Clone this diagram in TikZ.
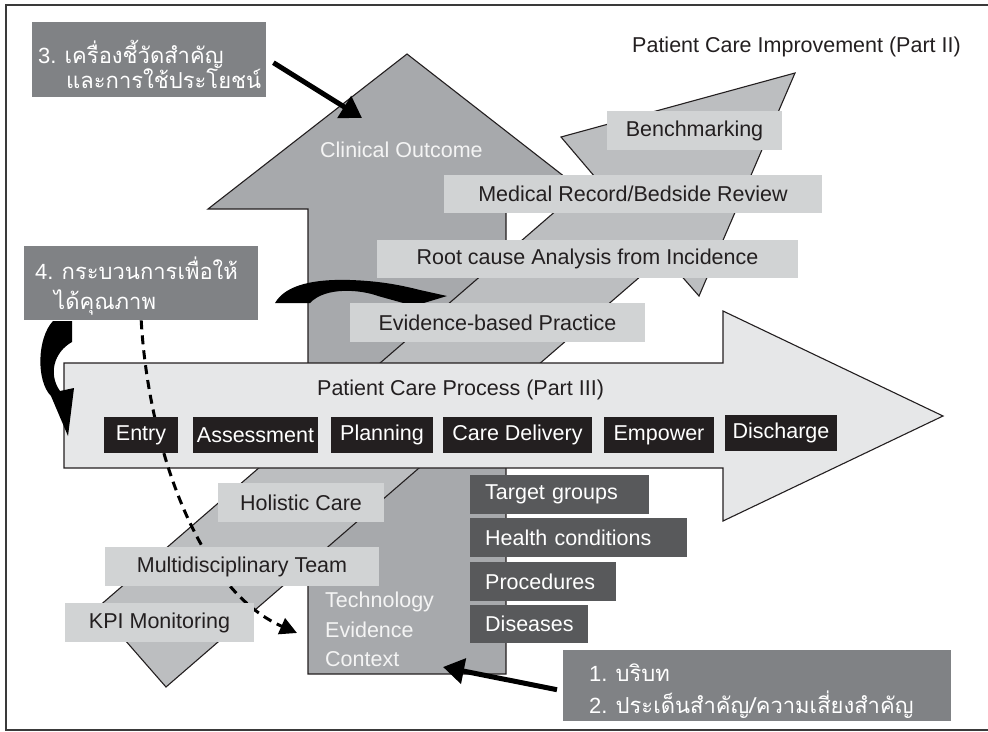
\documentclass[tikz,border=0pt]{standalone}
\usepackage{fontspec}
\setmainfont{Liberation Sans}
\newfontfamily\thaifont[Script=Thai]{Loma}
\usetikzlibrary{arrows.meta}
\definecolor{frameC}{HTML}{3A3A3A}
\definecolor{upC}{HTML}{A7A9AC}
\definecolor{diagC}{HTML}{BCBEC0}
\definecolor{procC}{HTML}{E6E7E8}
\definecolor{lblC}{HTML}{D1D3D4}
\definecolor{thaiC}{HTML}{808285}
\definecolor{stepC}{HTML}{231F20}
\definecolor{dkC}{HTML}{58595B}
\definecolor{inkC}{HTML}{231F20}
\definecolor{paleC}{HTML}{F4F4F4}
\newcommand{\thaisz}{\fontsize{22}{26}\selectfont}
\begin{document}
\begin{tikzpicture}[x=1pt,y=-1pt,
  font=\fontsize{21.5}{26}\selectfont,
  shapeline/.style={draw=inkC, line width=1.1pt, line join=miter},
  lbl/.style={fill=lblC, text=inkC, inner sep=0pt, minimum height=38.5pt},
  stepbox/.style={fill=stepC, text=white, inner sep=0pt, minimum height=36pt},
  dkbox/.style={fill=dkC, text=white, inner xsep=15pt, inner ysep=0pt, minimum height=38.5pt, anchor=north west, align=left},
  thaibox/.style={fill=thaiC, inner sep=0pt, anchor=north west},
  wtxt/.style={text=white, inner sep=0pt, anchor=base west, font=\thaisz},
  ptxt/.style={text=paleC, inner sep=0pt, anchor=base west},
  dtxt/.style={text=inkC, inner sep=0pt, anchor=base west},
  thickarr/.style={draw=black, line width=5pt, -{Triangle[length=21pt,width=25pt]}},
  dasharr/.style={draw=black, line width=3pt, dash pattern=on 9pt off 6pt, -{Triangle[length=17pt,width=17pt]}},
  curvefill/.style={fill=black}
]
\useasboundingbox (0,0) rectangle (988,731);
% frame
\draw[frameC, line width=1.5pt] (988,5) -- (6,5) -- (6,730) -- (988,730);

% big up arrow (Clinical Outcome)
\filldraw[fill=upC, shapeline] (308,674) -- (308,209) -- (208,209) -- (407,54) -- (606,209) -- (506,209) -- (506,674) -- cycle;
% diagonal arrow (Patient Care Improvement)
\filldraw[fill=diagC, shapeline] (795,73) -- (561,137) -- (595,177) -- (97,608) -- (166,687) -- (664,256) -- (699,296) -- cycle;
% process arrow
\filldraw[fill=procC, shapeline] (64,363) -- (723,363) -- (723,311) -- (943,416) -- (723,521) -- (723,468) -- (64,468) -- cycle;

% titles
\node[dtxt] (t2) at (632,52) {Patient Care Improvement (Part II)};
\node[ptxt] (tco) at (320,157) {Clinical Outcome};
\node[dtxt] (t3) at (317,395) {Patient Care Process (Part III)};
\node[ptxt] (ttech) at (325,607) {Technology};
\node[ptxt] (tevid) at (325,637) {Evidence};
\node[ptxt] (tcont) at (325,666) {Context};

% Thai boxes
\node[thaibox, minimum width=234pt, minimum height=75pt] (box3) at (32,22) {};
\node[wtxt] (b3a) at (38,63) {3. {\thaifont เครื่องชี้วัดสำคัญ}};
\node[wtxt] (b3b) at (66,88) {\thaifont และการใช้ประโยชน์};

\node[thaibox, minimum width=234pt, minimum height=74pt] (box4) at (24,246) {};
\node[wtxt] (b4a) at (35,279) {4. {\thaifont กระบวนการเพื่อให้}};
\node[wtxt] (b4b) at (54,309) {\thaifont ได้คุณภาพ};

\node[thaibox, minimum width=388pt, minimum height=71pt] (box12) at (563,650) {};
\node[wtxt] (b12a) at (589,681) {1. {\thaifont บริบท}};
\node[wtxt] (b12b) at (589,713) {2. {\thaifont ประเด็นสำคัญ/ความเสี่ยงสำคัญ}};

% dashed connector
\coordinate (dashend) at (297,633);
\draw[dasharr] (box4.south) .. controls (148,440) and (195,588) .. (dashend);

% curved black arrows
\fill[curvefill] (275,303) .. controls (286,284) and (316,279) .. (350,280)
  .. controls (380,281) and (400,285) .. (420,290) -- (447,296) -- (414,306) -- (378,296)
  .. controls (362,290) and (326,286) .. (310,303) -- cycle;
\fill[curvefill] (53,321) -- (72,321) -- (72,342) .. controls (54,352) and (48,374) .. (60,391)
  -- (74,388) -- (68,436) -- (51,396) .. controls (36,381) and (37,338) .. (53,321) -- cycle;

% light label boxes
\node[lbl, minimum width=175pt] (bench) at (694.5,130.5) {Benchmarking};
\node[lbl, minimum width=378pt] (medrec) at (633,194) {Medical Record/Bedside Review};
\node[lbl, minimum width=421pt] (root) at (587.5,259) {Root cause Analysis from Incidence};
\node[lbl, minimum width=295pt] (ebp) at (497.5,322.5) {Evidence-based Practice};
\node[lbl, minimum width=166pt] (holi) at (301,502.5) {Holistic Care};
\node[lbl, minimum width=274pt] (mdt) at (242,566.5) {Multidisciplinary Team};
\node[lbl, minimum width=189pt] (kpi) at (159.5,622.5) {KPI Monitoring};

% process steps
\node[stepbox, minimum width=74pt] (entry) at (141,435) {Entry};
\node[stepbox, minimum width=125pt] (assess) at (255.5,435) {Assessment};
\node[stepbox, minimum width=102pt] (plan) at (382,435) {Planning};
\node[stepbox, minimum width=149pt] (care) at (517.5,435) {Care Delivery};
\node[stepbox, minimum width=110pt] (emp) at (659,435) {Empower};
\node[stepbox, minimum width=112pt] (dis) at (781,433) {Discharge};

% dark boxes
\node[dkbox, text width=149pt] (tg) at (470,475) {Target groups};
\node[dkbox, text width=187pt] (hc) at (470,518) {Health conditions};
\node[dkbox, text width=116pt] (pr) at (470,562) {Procedures};
\node[dkbox, text width=88pt] (ds) at (470,604.5) {Diseases};

% thick arrows
\coordinate (tip3) at (362,118);
\coordinate (tip12) at (443,667);
\draw[thickarr] ([shift={(7,3)}]box3.east) -- (tip3);
\draw[thickarr] ([shift={(-6,4)}]box12.west) -- (tip12);
\end{tikzpicture}
\end{document}
